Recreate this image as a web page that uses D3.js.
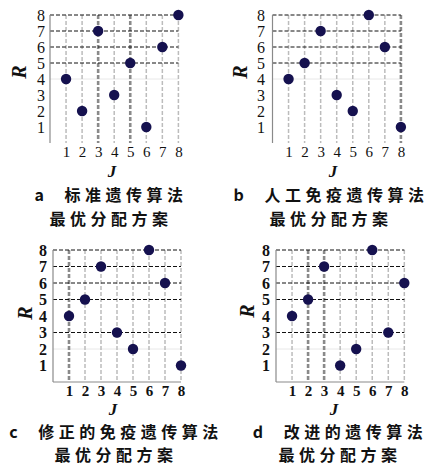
<!DOCTYPE html>
<html><head><meta charset="utf-8">
<script src="https://cdn.jsdelivr.net/npm/d3@7"></script>
<style>
html,body{margin:0;padding:0;background:#fff;}
svg{display:block;}
.serif{font-family:"Liberation Serif","Times New Roman","DejaVu Serif",serif;}
.cjk{font-family:"Noto Sans CJK SC","Noto Sans CJK JP",sans-serif;}
</style></head>
<body>
<script>
// ---- data ----
const jValues = [1, 2, 3, 4, 5, 6, 7, 8];
const rTicks = [1, 2, 3, 4, 5, 6, 7, 8];
const jTicks = [1, 2, 3, 4, 5, 6, 7, 8];
const rStandardGA = [4, 2, 7, 3, 5, 1, 6, 8];
const rArtificialImmuneGA = [4, 5, 7, 3, 2, 8, 6, 1];
const rModifiedImmuneGA = [4, 5, 7, 3, 2, 8, 6, 1];
const rImprovedGA = [4, 5, 7, 1, 2, 8, 3, 6];
const captionLine1 = ["a  标准遗传算法", "b  人工免疫遗传算法", "c  修正的免疫遗传算法", "d  改进的遗传算法"];
const captionLine2 = ["最优分配方案", "最优分配方案", "最优分配方案", "最优分配方案"];
const seriesList = [rStandardGA, rArtificialImmuneGA, rModifiedImmuneGA, rImprovedGA];

// ---- layout (per panel) ----
const panels = [
  {x0: 50, ux: 16.05, y0: 143, uy: 16, yLab: 45, rx: 20, ry: 72, jx: 112, jy: 176.5, xTickY: 157, capX: 111, cap1: 201, cap2: 224.5,
   hGrid: [5, 6, 7, 8], hFaint: [4], thick: [3, 5], bottom: false},
  {x0: 272.5, ux: 16.05, y0: 143, uy: 16, yLab: 265, rx: 241, ry: 72, jx: 333, jy: 176.5, xTickY: 157, capX: 331, cap1: 201, cap2: 224.5,
   hGrid: [5, 6, 7, 8], hFaint: [4], thick: [8], bottom: false},
  {x0: 53, ux: 16, y0: 382, uy: 16.5, yLab: 47, rx: 26, ry: 313, jx: 113, jy: 414.5, xTickY: 396, capX: 116, cap1: 438, cap2: 461.2,
   hGrid: [3, 5, 6, 7, 8], hFaint: [2], thick: [1], bottom: true},
  {x0: 276, ux: 16.04, y0: 382, uy: 16.5, yLab: 270, rx: 248, ry: 311, jx: 334, jy: 414.5, xTickY: 396, capX: 340, cap1: 438, cap2: 461.2,
   hGrid: [3, 5, 6, 7, 8], hFaint: [2], thick: [2, 3], bottom: true}
];

const svg = d3.select("body").append("svg").attr("width", 433).attr("height", 466);

panels.forEach((p, i) => {
  const g = svg.append("g");
  const x = d3.scaleLinear().domain([0, 8]).range([p.x0, p.x0 + 8 * p.ux]);
  const y = d3.scaleLinear().domain([0, 8]).range([p.y0, p.y0 - 8 * p.uy]);
  const data = jValues.map((j, k) => ({j: j, r: seriesList[i][k]}));

  // faint horizontal lines
  g.selectAll(".hf").data(p.hFaint).enter().append("line")
    .attr("x1", x(0)).attr("x2", x(8)).attr("y1", d => y(d)).attr("y2", d => y(d))
    .attr("stroke", "#e8e8e8").attr("stroke-width", 1);

  // vertical gridlines
  g.selectAll(".vg").data(jTicks).enter().append("line")
    .attr("x1", d => x(d)).attr("x2", d => x(d))
    .attr("y1", y(8)).attr("y2", y(0))
    .attr("stroke", d => p.thick.includes(d) ? "#8a8a8a" : "#bcbcbc")
    .attr("stroke-width", d => p.thick.includes(d) ? 2.6 : 1.5)
    .attr("stroke-dasharray", "4,2");

  // horizontal dashed gridlines
  g.selectAll(".hg").data(p.hGrid).enter().append("line")
    .attr("x1", x(0)).attr("x2", x(8)).attr("y1", d => y(d)).attr("y2", d => y(d))
    .attr("stroke", "#111").attr("stroke-width", 1).attr("stroke-dasharray", "4,2");

  // axis lines
  g.append("line").attr("x1", x(0)).attr("x2", x(0)).attr("y1", y(8)).attr("y2", y(0))
    .attr("stroke", "#8a8a8a").attr("stroke-width", 1.2);
  if (p.bottom) {
    g.append("line").attr("x1", x(0)).attr("x2", x(8)).attr("y1", y(0)).attr("y2", y(0))
      .attr("stroke", "#8a8a8a").attr("stroke-width", 1.2);
  }

  // y tick labels via axis
  const ya = g.append("g").attr("transform", `translate(${p.yLab + 3},0)`)
    .call(d3.axisLeft(y).tickValues(rTicks).tickSize(0).tickPadding(3).tickFormat(d3.format("d")));
  ya.attr("font-family", null).attr("font-size", null);
  ya.select(".domain").remove();
  ya.selectAll("text").attr("class", "serif").style("font-size", "16px").attr("fill", "#111")
    .style("font-weight", i >= 2 ? "bold" : "normal");

  // x tick labels via axis
  const xa = g.append("g").attr("transform", `translate(0,${p.xTickY - 11})`)
    .call(d3.axisBottom(x).tickValues(jTicks).tickSize(0).tickPadding(0).tickFormat(d3.format("d")));
  xa.attr("font-family", null).attr("font-size", null);
  xa.select(".domain").remove();
  xa.selectAll("text").attr("class", "serif").style("font-size", "15px").attr("fill", "#111")
    .style("font-weight", i >= 2 ? "bold" : "normal");

  // dots
  g.selectAll(".dot").data(data).enter().append("circle")
    .attr("cx", d => x(d.j)).attr("cy", d => y(d.r)).attr("r", 5.2)
    .attr("fill", "#15114f");

  // axis titles
  g.append("text").attr("class", "serif").attr("transform", `translate(${p.rx + 6},${p.ry}) rotate(-90)`)
    .attr("text-anchor", "middle").style("font-style", "italic")
    .style("font-weight", "bold").style("font-size", "20px").attr("fill", "#111").text("R");
  g.append("text").attr("class", "serif").attr("x", p.jx).attr("y", p.jy)
    .attr("text-anchor", "middle").style("font-style", "italic")
    .style("font-weight", "bold").style("font-size", "17px").attr("fill", "#111").text("J");

  // captions (one text element, two lines)
  const cap = g.append("text").attr("class", "cjk").attr("text-anchor", "middle")
    .style("font-weight", 700).style("font-size", "16px").style("white-space", "pre")
    .attr("letter-spacing", 4.5).attr("fill", "#111");
  cap.append("tspan").attr("x", p.capX).attr("y", p.cap1).text(captionLine1[i]);
  cap.append("tspan").attr("x", p.capX).attr("y", p.cap2).text(captionLine2[i]);
});
</script>
</body></html>
